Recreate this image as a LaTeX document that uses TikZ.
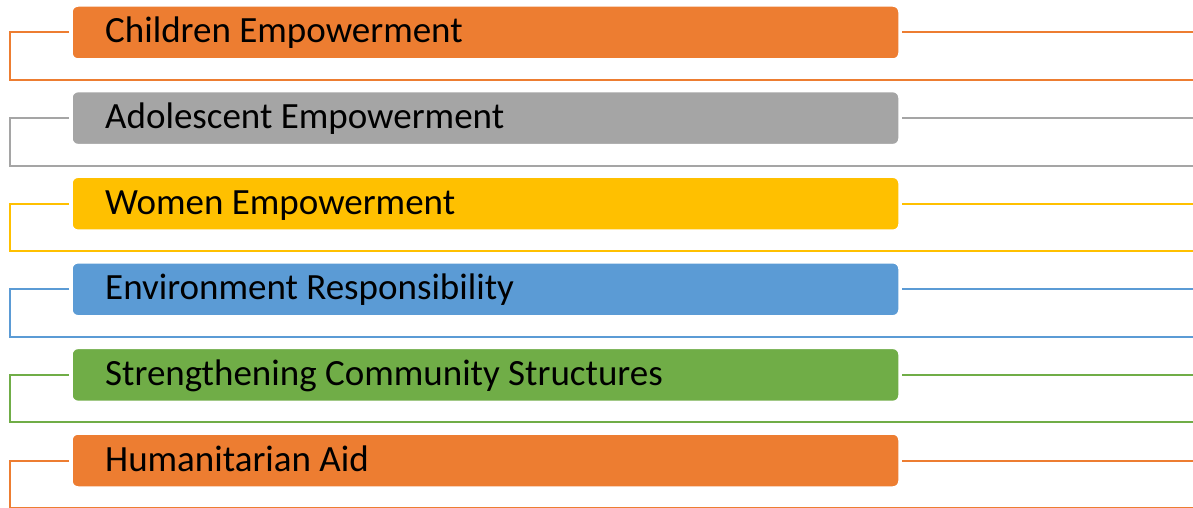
\documentclass[tikz,border=0pt]{standalone}
\usepackage{fontspec}
\setmainfont{Carlito}
\definecolor{cor}{HTML}{ED7D31}
\definecolor{cgr}{HTML}{A5A5A5}
\definecolor{cye}{HTML}{FFC000}
\definecolor{cbl}{HTML}{5B9BD5}
\definecolor{cgn}{HTML}{70AD47}
\tikzset{
  bar/.style={fill=#1, draw=white, line width=1.5pt, rounded corners=6pt},
  lbl/.style={anchor=base west, inner sep=0pt, font=\fontsize{37}{42}\selectfont},
  conn/.style={draw=#1, line width=2pt}
}
\begin{document}
\begin{tikzpicture}[x=1pt,y=-1pt]
\useasboundingbox (0,0) rectangle (1193,508);
\foreach \i/\c/\t in {0/cor/Children Empowerment,1/cgr/Adolescent Empowerment,2/cye/Women Empowerment,3/cbl/Environment Responsibility,4/cgn/Strengthening Community Structures,5/cor/Humanitarian Aid}{
  \pgfmathsetmacro{\ym}{32.5+85.6*\i}
  \path[bar=\c] (72,\ym-26.5) rectangle (899,\ym+26.5);
  \node[lbl] (t\i) at (105,\ym+10.5) {\t};
  \coordinate (L\i) at (69,\ym);
  \coordinate (R\i) at (902,\ym);
  \coordinate (E\i) at (1193,\ym);
  \coordinate (C\i) at (10,\ym);
  \coordinate (B\i) at (10,\ym+47.5);
  \coordinate (F\i) at (1193,\ym+47.5);
  \draw[conn=\c] (L\i) -- (C\i) -- (B\i) -- (F\i);
  \draw[conn=\c] (R\i) -- (E\i);
}
\end{tikzpicture}
\end{document}
